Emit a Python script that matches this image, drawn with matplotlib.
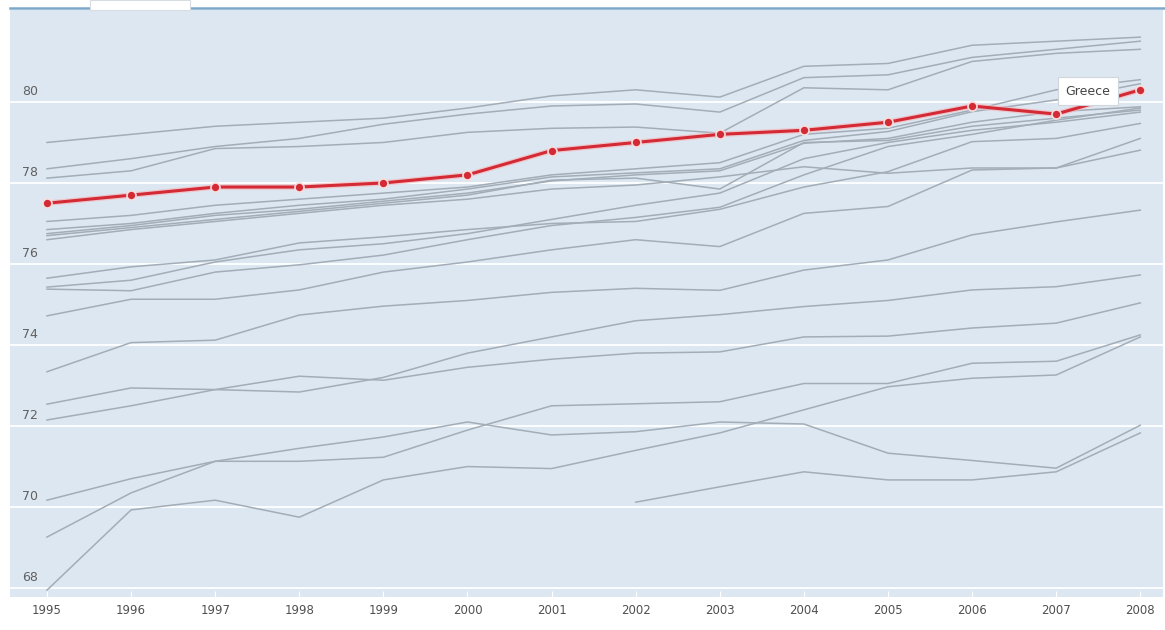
import matplotlib
matplotlib.use("Agg")
import matplotlib.pyplot as plt
import matplotlib.transforms as mtransforms
from matplotlib.patches import Rectangle

years = [1995, 1996, 1997, 1998, 1999, 2000, 2001, 2002, 2003, 2004, 2005, 2006, 2007, 2008]

greece = [77.5, 77.7, 77.9, 77.9, 78.0, 78.2, 78.8, 79.0, 79.2, 79.3, 79.5, 79.9, 79.7, 80.3]

series_a = [79.0, 79.2, 79.4, 79.5, 79.6, 79.85, 80.15, 80.3, 80.12, 80.88, 80.95, 81.4, 81.5, 81.6]
series_b = [78.35, 78.6, 78.9, 79.1, 79.45, 79.7, 79.9, 79.95, 79.75, 80.6, 80.67, 81.1, 81.3, 81.5]
series_c = [78.12, 78.3, 78.85, 78.9, 79.0, 79.25, 79.35, 79.38, 79.23, 80.35, 80.3, 81.0, 81.2, 81.3]
series_d = [77.05, 77.2, 77.45, 77.6, 77.75, 77.9, 78.2, 78.35, 78.5, 79.2, 79.35, 79.8, 80.3, 80.55]
series_e = [76.85, 77.0, 77.25, 77.45, 77.6, 77.85, 78.15, 78.25, 78.35, 79.05, 79.27, 79.76, 80.05, 80.45]
series_f = [76.75, 76.95, 77.2, 77.35, 77.55, 77.75, 78.05, 78.2, 78.3, 78.98, 79.1, 79.5, 79.76, 79.88]
series_g = [76.7, 76.9, 77.1, 77.3, 77.5, 77.7, 78.07, 78.12, 77.85, 79.0, 79.05, 79.4, 79.6, 79.8]
series_h = [76.6, 76.85, 77.05, 77.25, 77.45, 77.6, 77.85, 77.95, 78.15, 78.4, 78.24, 78.37, 78.37, 78.81]
series_i = [75.65, 75.93, 76.1, 76.52, 76.67, 76.85, 77.0, 77.05, 77.35, 77.9, 78.28, 79.02, 79.1, 79.47]
series_j = [75.43, 75.6, 76.05, 76.35, 76.5, 76.75, 77.1, 77.45, 77.75, 78.6, 79.0, 79.3, 79.5, 79.75]
series_k = [75.38, 75.34, 75.8, 75.98, 76.22, 76.6, 76.95, 77.15, 77.4, 78.2, 78.9, 79.2, 79.55, 79.85]
series_l = [74.72, 75.13, 75.13, 75.36, 75.8, 76.05, 76.35, 76.6, 76.43, 77.25, 77.42, 78.32, 78.37, 79.1]
series_m = [73.34, 74.06, 74.12, 74.74, 74.96, 75.1, 75.3, 75.4, 75.35, 75.85, 76.1, 76.72, 77.04, 77.33]
series_n = [72.54, 72.94, 72.9, 73.23, 73.13, 73.45, 73.65, 73.8, 73.83, 74.2, 74.22, 74.42, 74.54, 75.04]
series_o = [72.15, 72.5, 72.9, 72.84, 73.2, 73.8, 74.2, 74.6, 74.75, 74.95, 75.1, 75.36, 75.44, 75.73]
series_p = [70.17, 70.7, 71.13, 71.45, 71.73, 72.1, 71.78, 71.86, 72.1, 72.05, 71.33, 71.15, 70.96, 72.02]
series_q = [69.26, 70.35, 71.13, 71.13, 71.23, 71.9, 72.5, 72.55, 72.6, 73.05, 73.05, 73.55, 73.6, 74.25]
series_r = [67.95, 69.93, 70.17, 69.75, 70.67, 71.0, 70.95, 71.4, 71.83, 72.4, 72.97, 73.18, 73.26, 74.2]
years_s = [2002, 2003, 2004, 2005, 2006, 2007, 2008]
series_s = [70.12, 70.5, 70.87, 70.67, 70.67, 70.87, 71.83]

y_ticks = [68, 70, 72, 74, 76, 78, 80]
highlight_label = "Greece"

W, H = 1165, 630
fig = plt.figure(figsize=(W / 100, H / 100), dpi=100)
fig.patch.set_facecolor("white")

left, right, top, bottom = 10, 1163, 10, 597
ax = fig.add_axes([left / W, 1 - bottom / H, (right - left) / W, (bottom - top) / H])
ax.set_facecolor("#dde7f1")

ax.set_xlim(1994.56, 2008.27)
ax.set_ylim(67.78, 82.27)

for v in y_ticks:
    ax.axhline(v, color="white", lw=1.3, zorder=1)

grey_series = [series_a, series_b, series_c, series_d, series_e, series_f, series_g,
               series_h, series_i, series_j, series_k, series_l, series_m, series_n,
               series_o, series_p, series_q, series_r]
for s in grey_series:
    ax.plot(years, s, color="#a2adb8", lw=1.1, zorder=2, solid_joinstyle="round")
ax.plot(years_s, series_s, color="#a2adb8", lw=1.1, zorder=2)

ax.plot(years, greece, color="#f3b8bc", lw=4.0, zorder=3, alpha=0.7)
ax.plot(years, greece, color="#d42a35", lw=2.2, zorder=4,
        marker="o", markersize=6.5, markerfacecolor="#d42a35",
        markeredgecolor="#f6dede", markeredgewidth=1.2)

ax.text(2007.38, 80.27, highlight_label, fontsize=9, color="#444444",
        ha="center", va="center", zorder=6,
        bbox=dict(boxstyle="square,pad=0.6", facecolor="white", edgecolor="#d0d6dc", lw=0.8))

for sp in ax.spines.values():
    sp.set_visible(False)
ax.set_xticks(years)
ax.set_xticklabels([str(y) for y in years], fontsize=8.5, color="#505050")
ax.tick_params(axis="x", length=4, color="white", pad=5, direction="in")
ax.set_yticks([])

trans = mtransforms.blended_transform_factory(ax.transAxes, ax.transData)
for v in y_ticks:
    ax.text(0.0105, v + 0.1, str(v), transform=trans, fontsize=9, color="#606060",
            ha="left", va="bottom", zorder=5)

# top border line and tab
fig.add_artist(plt.Line2D([left / W, 1.0], [1 - 8 / H, 1 - 8 / H], color="#7ea8c9", lw=1.8,
                          transform=fig.transFigure))
fig.add_artist(Rectangle((90 / W, 1 - 10 / H), 100 / W, 10 / H, transform=fig.transFigure,
                         facecolor="white", edgecolor="#d8dde2", lw=0.8, zorder=10))

fig.savefig("out.png", dpi=100, facecolor="white")
